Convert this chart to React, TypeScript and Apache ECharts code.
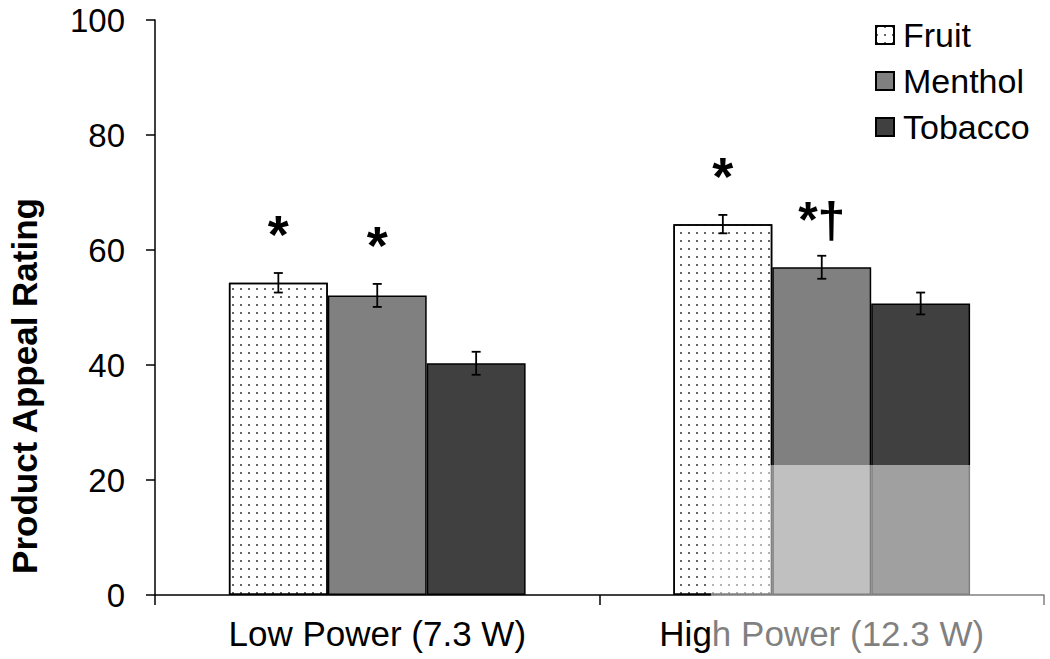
import React, { useEffect, useRef } from "react";
import * as echarts from "echarts";

const categories = ["Low Power (7.3 W)", "High Power (12.3 W)"];
const seriesNames = ["Fruit", "Menthol", "Tobacco"];
const fruitValues = [54.3, 64.5];
const fruitErrors = [1.7, 1.6];
const mentholValues = [52.1, 57.0];
const mentholErrors = [2.0, 2.0];
const tobaccoValues = [40.3, 50.7];
const tobaccoErrors = [2.0, 1.9];
const fruitMarks = ["*", "*"];
const mentholMarks = ["*", "*†"];
const tobaccoMarks = ["", ""];
const yMin = 0;
const yMax = 100;
const yInterval = 20;

const FONT = '"Liberation Sans", Arial, Helvetica, sans-serif';
const BAR_FRAC = 0.2225;

function errSeries(name: string, values: number[], errors: number[], marks: string[], offset: number) {
  return {
    type: "custom",
    name: name + " error",
    z: 10,
    silent: true,
    data: values.map((v, i) => [i, v, errors[i]]),
    renderItem: (params: any, api: any) => {
      const cat = api.value(0);
      const v = api.value(1);
      const e = api.value(2);
      const band = api.size([1, 0])[0];
      const cx = api.coord([cat, v])[0] + offset * band * BAR_FRAC;
      const yTop = api.coord([cat, v + e])[1];
      const yBot = api.coord([cat, v - e])[1];
      const cap = 4.5;
      const ls = { stroke: "#000", lineWidth: 1.8 };
      const mark = marks[params.dataIndex] || "";
      const hasDagger = mark.indexOf("†") >= 0;
      const children: any[] = [
        { type: "line", shape: { x1: cx, y1: yTop, x2: cx, y2: yBot }, style: ls },
        { type: "line", shape: { x1: cx - cap, y1: yTop, x2: cx + cap, y2: yTop }, style: ls },
        { type: "line", shape: { x1: cx - cap, y1: yBot, x2: cx + cap, y2: yBot }, style: ls },
      ];
      if (mark) {
        children.push({
          type: "text",
          x: cx,
          y: yTop - (hasDagger ? 36 : 39),
          style: {
            text: mark,
            font: "bold " + (hasDagger ? 50 : 54) + "px " + FONT,
            fill: "#000",
            align: "center",
            verticalAlign: "middle",
          },
        });
      }
      return { type: "group", children };
    },
  };
}

export default function App() {
  const ref = useRef<HTMLDivElement>(null);
  useEffect(() => {
    document.body.style.margin = "0";
    if (!ref.current) return;
    const chart = echarts.init(ref.current, null, { renderer: "svg" });
    const barCommon = {
      type: "bar",
      barWidth: (BAR_FRAC * 100).toFixed(2) + "%",
      barGap: "0%",
    };
    chart.setOption({
      animation: false,
      backgroundColor: "#fff",
      grid: { left: 155, right: 6, top: 20, bottom: 64 },
      legend: {
        data: seriesNames,
        orient: "vertical",
        left: 875,
        top: 18,
        padding: 0,
        itemWidth: 18,
        itemHeight: 18,
        itemGap: 12,
        icon: "rect",
        textStyle: { fontSize: 34, fontFamily: FONT, color: "#000", lineHeight: 34, padding: [0, 0, 0, 4] },
      },
      xAxis: {
        type: "category",
        data: categories,
        axisLine: { show: true, lineStyle: { color: "#000", width: 1.5 } },
        axisTick: { show: true, length: 10, lineStyle: { color: "#000", width: 1.5 } },
        axisLabel: { fontSize: 35, fontFamily: FONT, color: "#000", margin: 21 },
        splitLine: { show: false },
      },
      yAxis: {
        type: "value",
        min: yMin,
        max: yMax,
        interval: yInterval,
        axisLine: { show: true, lineStyle: { color: "#000", width: 1.5 } },
        axisTick: { show: true, length: 9, lineStyle: { color: "#000", width: 1.5 } },
        axisLabel: { fontSize: 33, fontFamily: FONT, color: "#000", margin: 30 },
        splitLine: { show: false },
      },
      series: [
        {
          ...barCommon,
          name: "Fruit",
          data: fruitValues,
          itemStyle: {
            color: "#fff",
            borderColor: "#000",
            borderWidth: 1.5,
            decal: {
              symbol: "rect",
              symbolSize: 0.8,
              dashArrayX: [2, 6],
              dashArrayY: [2, 6],
              color: "#000",
            },
          },
        },
        {
          ...barCommon,
          name: "Menthol",
          data: mentholValues,
          itemStyle: { color: "#808080", borderColor: "#000", borderWidth: 1.5 },
        },
        {
          ...barCommon,
          name: "Tobacco",
          data: tobaccoValues,
          itemStyle: { color: "#404040", borderColor: "#000", borderWidth: 1.5 },
        },
        errSeries("Fruit", fruitValues, fruitErrors, fruitMarks, -1),
        errSeries("Menthol", mentholValues, mentholErrors, mentholMarks, 0),
        errSeries("Tobacco", tobaccoValues, tobaccoErrors, tobaccoMarks, 1),
      ],
      graphic: [
        {
          type: "text",
          x: 24,
          y: 386,
          rotation: Math.PI / 2,
          style: {
            text: "Product Appeal Rating",
            font: "bold 35px " + FONT,
            fill: "#000",
            align: "center",
            verticalAlign: "middle",
          },
        },
        {
          type: "rect",
          z: 100,
          shape: { x: 711, y: 465, width: 339, height: 194 },
          style: { fill: "rgba(255,255,255,0.5)" },
        },
      ],
    });
    return () => chart.dispose();
  }, []);
  return <div ref={ref} style={{ width: 1050, height: 659 }} />;
}
